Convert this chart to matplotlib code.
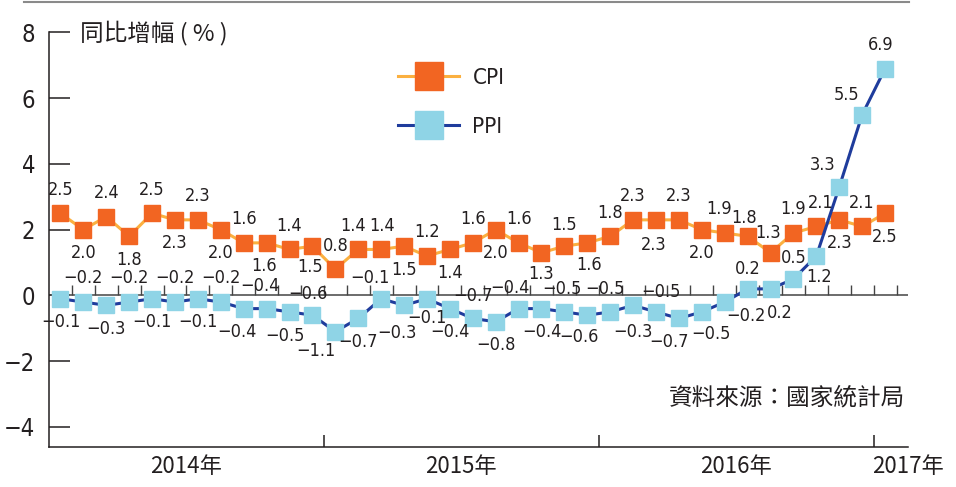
import numpy as np
import matplotlib
matplotlib.use("Agg")
import matplotlib.pyplot as plt
from matplotlib.lines import Line2D
from matplotlib import font_manager as fm

# monthly year-on-year change, Jan 2014 .. Jan 2017
cpi = [2.5, 2.0, 2.4, 1.8, 2.5, 2.3, 2.3, 2.0, 1.6, 1.6, 1.4, 1.5,
       0.8, 1.4, 1.4, 1.5, 1.2, 1.4, 1.6, 2.0, 1.6, 1.3, 1.5, 1.6,
       1.8, 2.3, 2.3, 2.3, 2.0, 1.9, 1.8, 1.3, 1.9, 2.1, 2.3, 2.1, 2.5]
ppi = [-0.1, -0.2, -0.3, -0.2, -0.1, -0.2, -0.1, -0.2, -0.4, -0.4, -0.5, -0.6,
       -1.1, -0.7, -0.1, -0.3, -0.1, -0.4, -0.7, -0.8, -0.4, -0.4, -0.5, -0.6,
       -0.5, -0.3, -0.5, -0.7, -0.5, -0.2, 0.2, 0.2, 0.5, 1.2, 3.3, 5.5, 6.9]
years = ["2014年", "2015年", "2016年", "2017年"]
y_ticks = [8, 6, 4, 2, 0, -2, -4]

# label placement: a = above the marker, b = below, plus a few nudges (points)
cpi_pos = "abababababab" + "aaababababab" + "aababaaaaabab"
ppi_pos = "babababababa" + "bbabbbababab" + "ababbbababaaa"
cpi_nudge = {9: (-2, -17), 11: (-2, -15), 13: (-3.5, 17), 14: (0.5, 17),
             21: (0, -15), 22: (0, 15), 23: (1.5, -16), 26: (-1.5, -18),
             29: (-4, 17), 30: (-2.5, 13), 31: (-2, 14.5), 33: (3, 17)}
ppi_nudge = {8: (-5, -17), 9: (-5, 16), 10: (-3, -17), 11: (-3, 15.5), 12: (-14, -14),
             14: (-8, 15), 15: (-5, -20), 16: (0, -14), 18: (0, 16.5), 20: (-6, 15),
             22: (-1.5, 16.5), 23: (-6, -16), 24: (-3.5, 16.5), 25: (0, -19.5),
             26: (3.5, 14), 27: (-7, -17), 28: (6.5, -16), 29: (15, -10),
             30: (0, 14.5), 31: (6.5, -17), 32: (0, 15.5), 33: (2, -15),
             34: (-12, 16), 35: (-11.5, 14), 36: (-3.5, 17)}

# pick a narrow face for the numbers if one is installed
fonts = fm.fontManager.ttflist
names = {f.name for f in fonts}
if "Liberation Sans Narrow" in names:
    NUM = {"family": ["Liberation Sans Narrow", "DejaVu Sans"], "stretch": "normal"}
elif any(f.name == "DejaVu Sans" and f.stretch == "condensed" for f in fonts):
    NUM = {"family": ["DejaVu Sans"], "stretch": "condensed"}
else:
    NUM = {"family": ["Liberation Sans", "DejaVu Sans"], "stretch": "normal"}
CJK_FONT = ["Noto Sans CJK TC", "DejaVu Sans"]
TXT = "#231f20"

cpi_marker = "#f26522"
cpi_line = "#fbb040"
ppi_marker = "#8fd4e6"
ppi_line = "#1f3c9c"

fig = plt.figure(figsize=(9.56, 4.87), dpi=100)
ax = fig.add_axes([49 / 956, 1 - 447 / 487, 859 / 956, 414.5 / 487])

x = np.arange(len(cpi))
ax.plot(x, cpi, color=cpi_line, lw=2.2, marker="s", ms=11.5,
        mfc=cpi_marker, mec=cpi_marker, label="CPI", zorder=4)
ax.plot(x, ppi, color=ppi_line, lw=2.2, marker="s", ms=11.5,
        mfc=ppi_marker, mec=ppi_marker, label="PPI", zorder=4)


def fmt(v):
    return f"{v:.1f}".replace("-", "\u2212")


def put_labels(vals, pos, nudge):
    for i, v in enumerate(vals):
        off = nudge.get(i, (0, 17 if pos[i] == "a" else -17))
        ax.annotate(fmt(v), (i, v), xytext=off,
                    textcoords="offset points", ha="center", va="center",
                    fontsize=13, family=NUM["family"], fontstretch=NUM["stretch"],
                    color=TXT, zorder=5)


put_labels(cpi, cpi_pos, cpi_nudge)
put_labels(ppi, ppi_pos, ppi_nudge)

ax.set_xlim(-0.5, len(cpi) - 0.5)
ax.set_ylim(-4.61, 8)

for s in ["top", "right"]:
    ax.spines[s].set_visible(False)
for s in ["left", "bottom"]:
    ax.spines[s].set_linewidth(1.1)
    ax.spines[s].set_color(TXT)

# zero line with monthly ticks
ax.axhline(0, color="#444444", lw=1.1, zorder=2)
ax.vlines(np.arange(0.5, len(cpi), 1), 0, 0.33, color="#444444", lw=1.0, zorder=2)

ax.set_yticks(y_ticks)
ax.set_yticklabels([str(t).replace("-", "\u2212") for t in y_ticks],
                   family=NUM["family"], fontstretch=NUM["stretch"], fontsize=17, color=TXT)
ax.tick_params(axis="y", direction="in", length=15, width=1.1, color=TXT, pad=10)

ax.set_xticks([11.5, 23.5, 35.5])
ax.set_xticklabels([])
ax.tick_params(axis="x", which="major", direction="in", length=9, width=1.1, color=TXT)
ax.set_xticks([5.5, 17.5, 29.5, 37.0], minor=True)
ax.set_xticklabels(years, minor=True, family=CJK_FONT, fontsize=16, color=TXT)
ax.tick_params(axis="x", which="minor", length=0, pad=6)

leg = ax.legend(loc="upper left", bbox_to_anchor=(378 / 956, 1 - 48 / 487),
                bbox_transform=fig.transFigure, frameon=False, markerscale=1.75,
                handlelength=2.75, handletextpad=0.6, labelspacing=1.3,
                prop={"family": NUM["family"], "stretch": NUM["stretch"], "size": 16})
for t in leg.get_texts():
    t.set_color(TXT)

fig.text(80 / 956, 1 - 33 / 487, "同比增幅 ( % )", family=CJK_FONT, fontsize=17,
         color=TXT, va="center", ha="left")
fig.text(905 / 956, 1 - 398 / 487, "資料來源：國家統計局", family=CJK_FONT, fontsize=17,
         color=TXT, va="center", ha="right")

# thin grey rule across the top
fig.add_artist(Line2D([24 / 956, 909 / 956], [1 - 1.5 / 487, 1 - 1.5 / 487],
                      transform=fig.transFigure, color="#8a8a8a", lw=1.5))

fig.savefig("out.png", dpi=100)
